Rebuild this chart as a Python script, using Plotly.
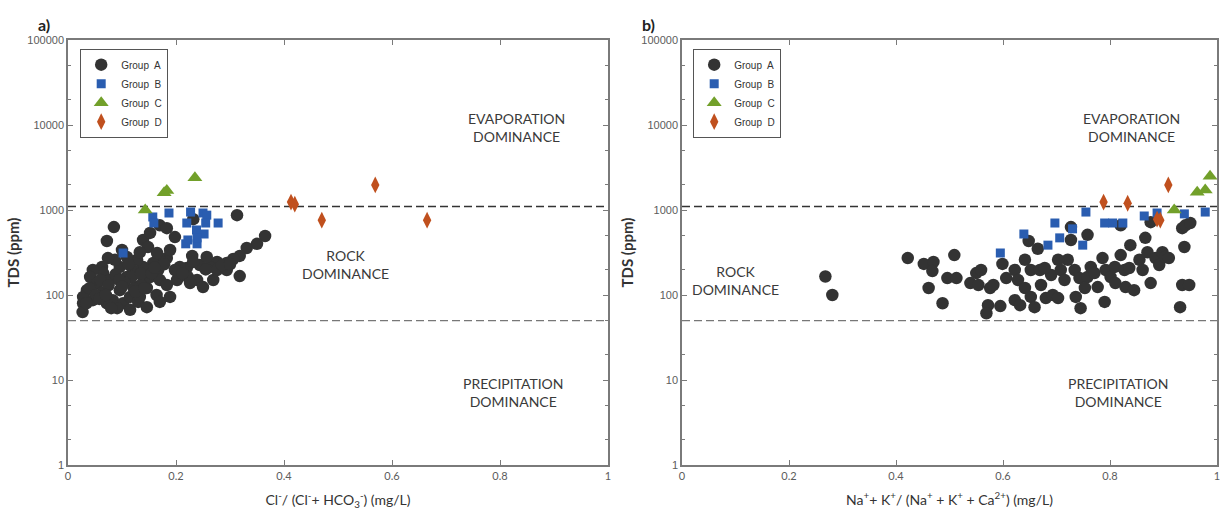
import math
import plotly.graph_objects as go

# ---------------- Panel a: Cl/(Cl+HCO3) vs TDS ----------------
a_A_x = [0.313, 0.232, 0.085, 0.072, 0.139, 0.152, 0.170, 0.183, 0.198, 0.100, 0.148, 0.365, 0.350, 0.331,
         0.318, 0.230, 0.318, 0.306, 0.294, 0.276, 0.263, 0.244, 0.220, 0.207, 0.198, 0.183, 0.170, 0.158,
         0.167, 0.139, 0.128, 0.120, 0.109, 0.096, 0.087, 0.074, 0.063, 0.065, 0.046, 0.041, 0.054, 0.035,
         0.028, 0.028, 0.027, 0.046, 0.065, 0.078, 0.083, 0.096, 0.102, 0.115, 0.115, 0.091, 0.128, 0.139,
         0.146, 0.164, 0.189, 0.152, 0.170, 0.183, 0.202, 0.222, 0.239, 0.250, 0.269, 0.276, 0.294, 0.226,
         0.204, 0.170, 0.130, 0.146, 0.072, 0.133, 0.109, 0.133, 0.118, 0.189, 0.165, 0.257,
         0.040, 0.052, 0.060, 0.075, 0.088, 0.105, 0.122, 0.135, 0.058, 0.080, 0.095, 0.112, 0.155, 0.178,
         0.212, 0.232, 0.255, 0.285, 0.300, 0.034, 0.070, 0.100, 0.125, 0.142, 0.160]
a_A_y = [870, 780, 630, 432, 444, 537, 660, 612, 480, 338, 367, 494, 400, 357,
         288, 288, 167, 265, 238, 245, 214, 225, 208, 214, 197, 272, 260, 238,
         197, 214, 260, 197, 163, 214, 260, 272, 214, 181, 197, 163, 138, 114,
         95, 80, 63, 87, 108, 150, 87, 114, 80, 95, 67, 70, 124, 142,
         121, 100, 95, 163, 150, 131, 150, 163, 150, 124, 150, 197, 197, 138,
         186, 83, 83, 72, 80, 95, 280, 318, 163, 338, 312, 280,
         120, 100, 150, 130, 175, 140, 120, 178, 90, 70, 150, 230, 180, 230,
         180, 245, 200, 225, 230, 80, 100, 125, 110, 120, 210]
a_B_x = [0.102, 0.157, 0.159, 0.187, 0.227, 0.220, 0.250, 0.257, 0.255, 0.278, 0.238, 0.252, 0.222, 0.218, 0.239, 0.239]
a_B_y = [312, 828, 703, 922, 946, 703, 922, 870, 703, 703, 582, 522, 444, 400, 400, 470]
a_C_x = [0.143, 0.178, 0.183, 0.235]
a_C_y = [1000, 1600, 1700, 2400]
a_D_x = [0.413, 0.420, 0.470, 0.569, 0.665]
a_D_y = [1240, 1170, 760, 1970, 760]

# ---------------- Panel b: (Na+K)/(Na+K+Ca) vs TDS ----------------
b_A_x = [0.268, 0.281, 0.422, 0.452, 0.470, 0.468, 0.461, 0.487, 0.509, 0.496, 0.513, 0.539, 0.550, 0.559,
         0.554, 0.576, 0.582, 0.572, 0.569, 0.595, 0.599, 0.606, 0.622, 0.628, 0.622, 0.632, 0.641, 0.641,
         0.648, 0.652, 0.652, 0.659, 0.665, 0.669, 0.671, 0.680, 0.690, 0.693, 0.703, 0.708, 0.715, 0.721,
         0.727, 0.727, 0.734, 0.736, 0.745, 0.743, 0.758, 0.758, 0.753, 0.764, 0.771, 0.777, 0.786, 0.790,
         0.792, 0.801, 0.809, 0.810, 0.820, 0.820, 0.827, 0.829, 0.838, 0.836, 0.845, 0.855, 0.861, 0.866,
         0.870, 0.876, 0.876, 0.885, 0.892, 0.898, 0.903, 0.910, 0.935, 0.941, 0.950, 0.939, 0.935, 0.948,
         0.931, 0.703, 0.678]
b_A_y = [165, 100, 272, 232, 245, 191, 121, 80, 295, 158, 158, 138, 181, 197,
         131, 121, 131, 76, 61, 74, 232, 158, 197, 150, 87, 76, 121, 260,
         432, 197, 95, 72, 350, 197, 131, 92, 172, 100, 92, 197, 150, 260,
         630, 444, 197, 95, 70, 158, 510, 163, 121, 214, 181, 124, 272, 83,
         197, 163, 214, 138, 660, 295, 197, 124, 386, 208, 114, 260, 197, 470,
         318, 138, 720, 272, 225, 318, 280, 272, 612, 660, 703, 367, 131, 131,
         72, 260, 208]
b_B_x = [0.595, 0.639, 0.684, 0.706, 0.697, 0.730, 0.749, 0.755, 0.790, 0.805, 0.824, 0.864, 0.888, 0.939, 0.978]
b_B_y = [312, 522, 386, 470, 703, 600, 386, 946, 703, 703, 703, 850, 922, 900, 946]
b_C_x = [0.920, 0.963, 0.978, 0.987]
b_C_y = [1000, 1620, 1720, 2500]
b_D_x = [0.788, 0.833, 0.909, 0.888, 0.894]
b_D_y = [1240, 1200, 1970, 780, 760]

# Gibbs boundaries (TDS, ppm)
upper_boundary = 1100
lower_boundary = 50

group_names = ["Group  A", "Group  B", "Group  C", "Group  D"]
colors = ["#333333", "#2a5db0", "#72a02a", "#c0501e"]
symbols = ["circle", "square", "triangle-up", "diamond-tall"]
sizes = [12.5, 9, 13, 12]

fig = go.Figure()

panels = [
    ("x", "y", "legend", [(a_A_x, a_A_y), (a_B_x, a_B_y), (a_C_x, a_C_y), (a_D_x, a_D_y)]),
    ("x2", "y2", "legend2", [(b_A_x, b_A_y), (b_B_x, b_B_y), (b_C_x, b_C_y), (b_D_x, b_D_y)]),
]
for xa, ya, leg, groups in panels:
    for y_line, lc in ((upper_boundary, "#333333"), (lower_boundary, "#777777")):
        fig.add_trace(go.Scatter(x=[0, 1], y=[y_line, y_line], mode="lines", xaxis=xa, yaxis=ya,
                                 line=dict(color=lc, width=1.3, dash="8px,4px"),
                                 showlegend=False, hoverinfo="skip"))
    for i, (gx, gy) in enumerate(groups):
        fig.add_trace(go.Scatter(x=gx, y=gy, mode="markers", name=group_names[i], xaxis=xa, yaxis=ya,
                                 legend=leg,
                                 marker=dict(color=colors[i], symbol=symbols[i], size=sizes[i],
                                             line=dict(width=0))))

axis_line = "#7a7a7a"
ytick_font = dict(family="Liberation Sans, Arial", size=11, color="#5c5c5c")
xtick_font = dict(family="Lato, Liberation Sans", size=11, color="#5c5c5c")
title_font = dict(family="Lato, Open Sans", size=14, color="#333333")

xcommon = dict(range=[0, 1], tickvals=[0, 0.2, 0.4, 0.6, 0.8, 1], ticktext=["0", "0.2", "0.4", "0.6", "0.8", "1"],
               ticks="inside", ticklen=5, tickcolor=axis_line, showline=True, linecolor=axis_line, linewidth=1.5,
               mirror="allticks", showgrid=False, zeroline=False, tickfont=xtick_font, automargin=False)
ycommon = dict(type="log", range=[0, 5], tickvals=[1, 10, 100, 1000, 10000, 100000],
               ticktext=["1", "10", "100", "1000", "10000", "100000"],
               ticks="inside", ticklen=5, tickcolor=axis_line, showline=True, linecolor=axis_line, linewidth=1.5,
               mirror="allticks", showgrid=False, zeroline=False, tickfont=ytick_font, automargin=False,
               minor=dict(ticks="inside", ticklen=3, tickcolor=axis_line, showgrid=False),
               title=dict(text="<b>TDS (ppm)</b>", font=dict(family="Lato, Open Sans", size=15, color="#333333"),
                          standoff=4))

fig.update_layout(
    width=1222, height=517, margin=dict(l=0, r=0, t=0, b=0),
    paper_bgcolor="white", plot_bgcolor="white",
    xaxis=dict(domain=[68 / 1222, 608 / 1222], anchor="y",
               title=dict(text="Cl<sup>-</sup>/ (Cl<sup>-</sup>+ HCO<sub>3</sub><sup>-</sup>) (mg/L)",
                          font=title_font, standoff=14), **xcommon),
    xaxis2=dict(domain=[682 / 1222, 1217 / 1222], anchor="y2",
                title=dict(text="Na<sup>+</sup>+ K<sup>+</sup>/ (Na<sup>+</sup> + K<sup>+</sup> + Ca<sup>2+</sup>) (mg/L)",
                           font=title_font, standoff=14), **xcommon),
    yaxis=dict(domain=[1 - 465 / 517, 1 - 40 / 517], anchor="x", **ycommon),
    yaxis2=dict(domain=[1 - 465 / 517, 1 - 40 / 517], anchor="x2", **ycommon),
    legend=dict(x=80 / 1222, y=1 - 49 / 517, xanchor="left", yanchor="top", bgcolor="white",
                bordercolor="#555555", borderwidth=1.2,
                font=dict(family="Liberation Sans, Arial", size=10, color="#333333"), itemwidth=30,
                tracegroupgap=0),
    legend2=dict(x=693 / 1222, y=1 - 49 / 517, xanchor="left", yanchor="top", bgcolor="white",
                 bordercolor="#555555", borderwidth=1.2,
                 font=dict(family="Liberation Sans, Arial", size=10, color="#333333"), itemwidth=30,
                 tracegroupgap=0),
    showlegend=True,
)

# region labels: x in axis units, y in TDS (ppm)
ann_font = dict(family="Lato, Open Sans", size=14, color="#3a3a3a")
region_labels = [
    ("x", "y", 0.83, 9300, "EVAPORATION<br>DOMINANCE"),
    ("x", "y", 0.513, 230, "ROCK<br>DOMINANCE"),
    ("x", "y", 0.825, 7.2, "PRECIPITATION<br>DOMINANCE"),
    ("x2", "y2", 0.84, 9300, "EVAPORATION<br>DOMINANCE"),
    ("x2", "y2", 0.10, 150, "ROCK<br>DOMINANCE"),
    ("x2", "y2", 0.815, 7.2, "PRECIPITATION<br>DOMINANCE"),
]
for xr, yr, ax_x, ax_y, txt in region_labels:
    fig.add_annotation(x=ax_x, y=math.log10(ax_y), xref=xr, yref=yr, text=txt, showarrow=False,
                       font=ann_font, align="center")

for px, txt in [(36, "a)"), (649, "b)")]:
    fig.add_annotation(x=px / 1222, y=1 - 13 / 517, xref="paper", yref="paper", text="<b>" + txt + "</b>",
                       showarrow=False, font=dict(family="Lato, Open Sans", size=16, color="#222222"))

fig.write_html("out.html",
               config={"displayModeBar": False},
               post_script="document.body.style.margin='0';document.body.style.padding='0';"
                           "document.documentElement.style.overflow='hidden';")
